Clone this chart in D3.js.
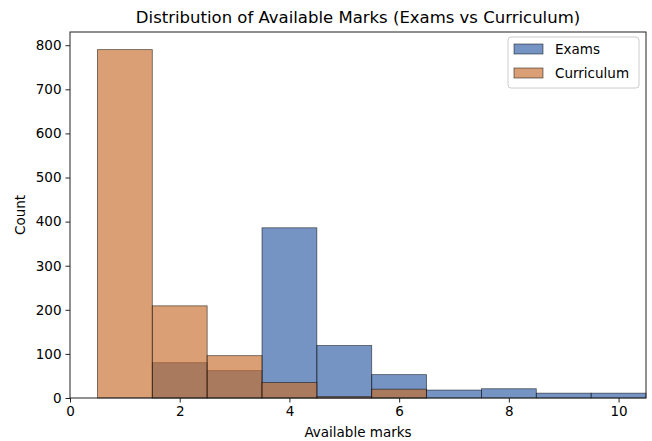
<!DOCTYPE html>
<html><head><meta charset="utf-8">
<script src="https://cdn.jsdelivr.net/npm/d3@7"></script>
<style>body{margin:0;background:#fff}svg{font-family:"DejaVu Sans",sans-serif}</style>
</head><body>
<script>
const bins = [1,2,3,4,5,6,7,8,9,10];
const exams = [0,80,62,386,119,53,18,21,11,11];
const curriculum = [790,209,96,35,3,20,0,0,0,0];
const seriesNames = ["Exams","Curriculum"];
const colors = ["#2b5aa4","#c66c2a"];
const yTicks = [0,100,200,300,400,500,600,700,800];
const xTicks = [0,2,4,6,8,10];

const W=652,H=441;
const m={l:70,r:6,t:32,b:43};
const op=0.65;
const svg=d3.select("body").append("svg").attr("width",W).attr("height",H);
const x=d3.scaleLinear().domain([0,10.5]).range([m.l,W-m.r]);
const y=d3.scaleLinear().domain([0,830]).range([H-m.b,m.t]);

const g=svg.append("g");
[exams,curriculum].forEach((vals,i)=>{
  g.append("g").selectAll("rect").data(bins.map((b,j)=>({b,v:vals[j]})).filter(d=>d.v>0))
   .join("rect")
   .attr("x",d=>x(d.b-0.5)).attr("width",d=>x(d.b+0.5)-x(d.b-0.5))
   .attr("y",d=>y(d.v)).attr("height",d=>y(0)-y(d.v))
   .attr("fill",colors[i]).attr("fill-opacity",op)
   .attr("stroke","#000").attr("stroke-opacity",0.6).attr("stroke-width",0.8);
});

const xa=svg.append("g").attr("transform",`translate(0,${H-m.b})`)
  .call(d3.axisBottom(x).tickValues(xTicks).tickSize(4.5).tickPadding(4));
const ya=svg.append("g").attr("transform",`translate(${m.l},0)`)
  .call(d3.axisLeft(y).tickValues(yTicks).tickSize(4.5).tickPadding(4));
[xa,ya].forEach(a=>{a.selectAll("text").attr("font-size",13.5).attr("fill","#000").attr("font-family","DejaVu Sans");a.select(".domain").remove();a.selectAll("line").attr("stroke","#222");});
svg.append("rect").attr("x",m.l).attr("y",m.t).attr("width",W-m.r-m.l).attr("height",H-m.b-m.t)
  .attr("fill","none").attr("stroke","#222").attr("stroke-width",1);

svg.append("text").attr("x",(m.l+W-m.r)/2).attr("y",23).attr("text-anchor","middle")
  .attr("font-size",16.5).text("Distribution of Available Marks (Exams vs Curriculum)");
svg.append("text").attr("x",(m.l+W-m.r)/2).attr("y",H-4).attr("text-anchor","middle")
  .attr("font-size",13.5).text("Available marks");
svg.append("text").attr("transform",`translate(25,${(m.t+H-m.b)/2}) rotate(-90)`).attr("text-anchor","middle")
  .attr("font-size",13.5).text("Count");

const lg=svg.append("g").attr("transform","translate(508,37)");
lg.append("rect").attr("width",131).attr("height",51).attr("rx",3).attr("fill","#fff").attr("fill-opacity",0.8).attr("stroke","#ccc");
seriesNames.forEach((n,i)=>{
  lg.append("rect").attr("x",6).attr("y",7+i*24).attr("width",29).attr("height",10)
    .attr("fill",colors[i]).attr("fill-opacity",op).attr("stroke","#000").attr("stroke-opacity",0.6).attr("stroke-width",0.8);
  lg.append("text").attr("x",47).attr("y",17+i*24).attr("font-size",13.5).text(n);
});
</script>
</body></html>
